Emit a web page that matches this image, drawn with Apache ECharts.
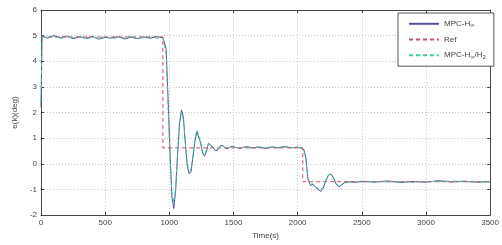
<!DOCTYPE html>
<html lang="en">
<head>
    <meta charset="UTF-8">
    <title>tracking error</title>
    <script src="https://cdn.jsdelivr.net/npm/echarts@6/dist/echarts.min.js"></script>
    <style>
        html, body { margin: 0; padding: 0; background: #fff; }
        .box { width: 502px; height: 245px; }
    </style>
</head>
<body>
    <div class="box"></div>
    <script>
        // sample times (k)
        var t = [0, 8, 20, 50, 100, 150, 200, 250, 300, 350, 400, 450, 500, 550, 600, 650, 700, 750, 800, 850, 900, 950,
            975, 990, 1005, 1020, 1035, 1050, 1065, 1080, 1095, 1110, 1125, 1140, 1155, 1170, 1185, 1200, 1215, 1230, 1245,
            1260, 1275, 1290, 1305, 1320, 1340, 1360, 1380, 1400, 1420, 1440, 1460, 1480, 1500, 1550, 1600, 1650, 1700,
            1750, 1800, 1850, 1900, 1950, 2000, 2030, 2050, 2065, 2080, 2100, 2120, 2140, 2160, 2180, 2200, 2220, 2240,
            2260, 2280, 2300, 2320, 2340, 2360, 2400, 2450, 2500, 2600, 2700, 2800, 2900, 3000, 3100, 3200, 3300, 3400, 3500]

        // MPC-H∞
        var hinf = [2.2, 5.0, 4.95, 4.9, 5.0, 4.92, 4.98, 4.88, 4.95, 4.9, 4.97, 4.86, 4.93, 4.9, 4.96, 4.87, 4.94, 4.88, 4.95, 4.9, 4.96, 4.92,
            4.5, 2.6, 0.5, -1.3, -1.75, -1.0, 0.4, 1.6, 2.1, 1.8, 0.8, -0.1, -0.4, -0.3, 0.3, 0.9, 1.25, 1.2, 0.8,
            0.4, 0.3, 0.5, 0.8, 0.85, 0.65, 0.5, 0.55, 0.72, 0.7, 0.58, 0.6, 0.68, 0.66, 0.6, 0.67, 0.62, 0.66,
            0.6, 0.65, 0.63, 0.67, 0.62, 0.65, 0.6, 0.55, 0.2, -0.6, -0.85, -0.8, -0.92, -1.0, -1.08, -0.95, -0.65, -0.45,
            -0.4, -0.55, -0.8, -0.9, -0.85, -0.75, -0.7, -0.73, -0.68, -0.72, -0.67, -0.73, -0.69, -0.72, -0.66, -0.71, -0.68, -0.72, -0.7]

        // MPC-H∞/H2
        var hmix = [2.4, 4.9, 5.0, 4.93, 4.97, 4.89, 4.95, 4.91, 4.98, 4.87, 4.94, 4.9, 4.96, 4.88, 4.93, 4.91, 4.97, 4.89, 4.92, 4.95, 4.9, 4.9,
            4.3, 2.2, 0.2, -1.1, -1.5, -0.9, 0.5, 1.6, 2.0, 1.7, 0.8, 0.0, -0.3, -0.2, 0.4, 1.0, 1.3, 1.15, 0.75,
            0.45, 0.35, 0.55, 0.78, 0.8, 0.62, 0.52, 0.58, 0.7, 0.68, 0.6, 0.62, 0.66, 0.64, 0.62, 0.65, 0.6, 0.64,
            0.62, 0.66, 0.61, 0.65, 0.63, 0.64, 0.62, 0.5, 0.1, -0.55, -0.8, -0.78, -0.88, -0.96, -1.02, -0.9, -0.62, -0.44,
            -0.42, -0.58, -0.78, -0.86, -0.82, -0.74, -0.71, -0.7, -0.72, -0.69, -0.71, -0.7, -0.73, -0.69, -0.7, -0.67, -0.71, -0.69, -0.71]

        // reference
        var refT = [0, 950, 950, 2040, 2040, 3500]
        var refV = [4.95, 4.95, 0.62, 0.62, -0.7, -0.7]

        var xTicks = { min: 0, max: 3500, interval: 500 }
        var yTicks = { min: -2, max: 6, interval: 1 }

        var blue = '#4f5490', red = '#d0506e', green = '#3ccca0'

        function pairs(xs, ys) {
            var out = []
            for (var i = 0; i < xs.length; i++) out.push([xs[i], ys[i]])
            return out
        }

        var labelFont = { color: '#444', fontSize: 8, fontFamily: 'Liberation Sans' }
        var axisLine = { onZero: false, lineStyle: { color: '#444', width: 1 } }
        var tick = { inside: true, length: 3, lineStyle: { color: '#444' } }
        var grid = { lineStyle: { color: '#c8c8c8', type: [1, 2], width: 1 } }

        var option = {
            animation: false,
            backgroundColor: '#fff',
            grid: { left: 41, right: 8, top: 10, bottom: 21 },
            legend: {
                orient: 'vertical',
                left: 398,
                top: 13,
                backgroundColor: '#fff',
                borderColor: '#555',
                borderWidth: 1,
                borderRadius: 0,
                padding: [6, 8, 6, 10],
                itemWidth: 30,
                itemHeight: 12,
                itemGap: 6,
                itemStyle: { opacity: 0 },
                data: ['MPC-H∞', 'Ref', 'MPC-H∞/H2'],
                formatter: function (name) {
                    if (name === 'MPC-H∞') return 'MPC-H{sub|∞}'
                    if (name === 'MPC-H∞/H2') return 'MPC-H{sub|∞}/H{sub|2}'
                    return name
                },
                textStyle: {
                    color: '#444', fontSize: 8, fontFamily: 'Liberation Sans',
                    rich: { sub: { fontSize: 6, verticalAlign: 'bottom', padding: [4, 0, 0, 0] } }
                }
            },
            xAxis: [{
                type: 'value', min: xTicks.min, max: xTicks.max, interval: xTicks.interval,
                name: 'Time(s)', nameLocation: 'middle', nameGap: 17,
                nameTextStyle: labelFont,
                axisLine: axisLine,
                axisTick: tick,
                axisLabel: Object.assign({ margin: 4, formatter: function (v) { return String(v) } }, labelFont),
                splitLine: grid
            }, {
                type: 'value', position: 'top', min: xTicks.min, max: xTicks.max, interval: xTicks.interval,
                axisLine: axisLine,
                axisTick: tick,
                axisLabel: { show: false },
                splitLine: { show: false }
            }],
            yAxis: [{
                type: 'value', min: yTicks.min, max: yTicks.max, interval: yTicks.interval,
                name: 'e(k)(deg)', nameLocation: 'middle', nameGap: 20,
                nameTextStyle: labelFont,
                axisLine: axisLine,
                axisTick: tick,
                axisLabel: Object.assign({ margin: 4 }, labelFont),
                splitLine: grid
            }, {
                type: 'value', position: 'right', min: yTicks.min, max: yTicks.max, interval: yTicks.interval,
                axisLine: axisLine,
                axisTick: tick,
                axisLabel: { show: false },
                splitLine: { show: false }
            }],
            series: [{
                name: 'MPC-H∞',
                type: 'line',
                showSymbol: false,
                symbol: 'none',
                data: pairs(t, hinf),
                lineStyle: { color: blue, width: 1 },
                itemStyle: { color: blue }
            }, {
                name: 'Ref',
                type: 'line',
                showSymbol: false,
                symbol: 'none',
                data: pairs(refT, refV),
                lineStyle: { color: red, width: 1, type: [4, 3] },
                itemStyle: { color: red }
            }, {
                name: 'MPC-H∞/H2',
                type: 'line',
                showSymbol: false,
                symbol: 'none',
                data: pairs(t, hmix),
                lineStyle: { color: green, width: 1, type: [4, 3] },
                itemStyle: { color: green }
            }]
        }

        var chart = echarts.init(document.querySelector('.box'))
        chart.setOption(option)
    </script>
</body>
</html>
